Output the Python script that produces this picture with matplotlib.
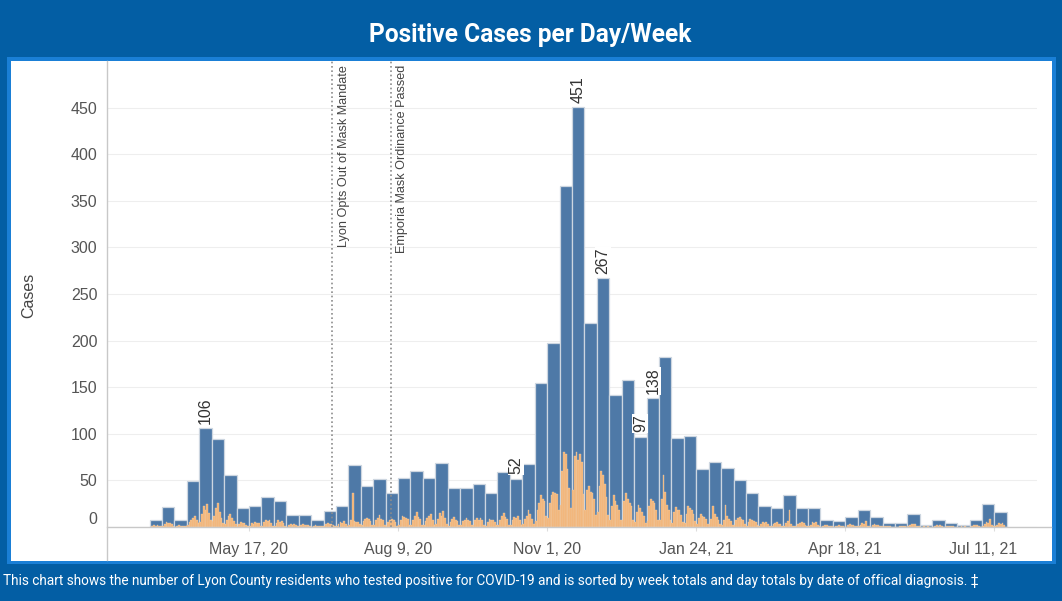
import numpy as np
import pandas as pd
import matplotlib
matplotlib.use('Agg')
import matplotlib.pyplot as plt
import matplotlib.transforms as mtransforms
from matplotlib.patches import Rectangle
from matplotlib.lines import Line2D
from matplotlib import font_manager as fm

# weekly totals, weeks starting Sunday 2020-03-22
first_week = '2020-03-22'
weekly = [8, 21, 7, 49, 106, 94, 56, 20, 22, 32, 28, 13, 13, 7, 17, 23, 66, 44, 51, 36,
          53, 60, 53, 69, 42, 42, 46, 36, 59, 52, 68, 154, 197, 366, 451, 219, 267, 142,
          158, 97, 138, 182, 95, 98, 62, 70, 63, 50, 36, 22, 20, 34, 20, 20, 8, 6, 11, 18,
          11, 4, 4, 14, 2, 7, 4, 2, 8, 25, 16]

# daily totals, one row per week (Sun..Sat)
daily_rows = [
    [0, 1, 2, 1, 2, 1, 1], [1, 3, 5, 4, 4, 3, 1], [0, 1, 2, 1, 1, 1, 1], [2, 5, 8, 10, 12, 8, 4],
    [5, 14, 22, 18, 25, 15, 7], [6, 12, 20, 26, 16, 10, 4], [3, 8, 12, 14, 10, 6, 3],
    [1, 3, 5, 4, 4, 2, 1], [1, 4, 3, 5, 4, 4, 1], [1, 5, 8, 6, 7, 4, 1], [1, 4, 7, 5, 6, 4, 1],
    [0, 2, 3, 2, 3, 2, 1], [1, 2, 3, 2, 2, 2, 1], [0, 1, 2, 1, 1, 1, 1], [1, 3, 4, 3, 3, 2, 1],
    [1, 3, 5, 4, 6, 3, 1], [2, 8, 37, 6, 5, 5, 3], [2, 6, 9, 10, 9, 6, 2], [2, 7, 10, 13, 9, 8, 2],
    [1, 5, 8, 9, 7, 5, 1], [2, 7, 12, 11, 10, 9, 2], [2, 8, 12, 16, 11, 9, 2],
    [2, 6, 10, 12, 14, 7, 2], [3, 9, 15, 12, 17, 10, 3], [1, 5, 9, 11, 8, 6, 2],
    [2, 6, 8, 10, 8, 6, 2], [2, 7, 10, 8, 10, 7, 2], [1, 5, 9, 7, 7, 5, 2],
    [2, 8, 12, 15, 11, 9, 2], [2, 7, 11, 10, 12, 8, 2], [3, 9, 12, 18, 14, 9, 3],
    [6, 18, 26, 34, 30, 28, 12], [10, 26, 34, 38, 36, 35, 18], [24, 60, 80, 78, 62, 42, 20],
    [40, 76, 80, 72, 78, 70, 35], [18, 40, 44, 38, 36, 30, 13], [16, 44, 60, 56, 46, 32, 13],
    [8, 22, 34, 28, 24, 18, 8], [8, 28, 36, 30, 26, 22, 8], [5, 16, 24, 20, 16, 12, 4],
    [6, 22, 30, 28, 26, 18, 8], [8, 30, 56, 38, 24, 18, 8], [4, 16, 21, 18, 18, 13, 5],
    [4, 14, 22, 20, 18, 14, 6], [3, 10, 14, 12, 11, 9, 3], [3, 9, 22, 14, 11, 8, 3],
    [2, 8, 24, 12, 9, 6, 2], [2, 7, 10, 11, 9, 8, 3], [1, 5, 9, 8, 6, 5, 2],
    [1, 3, 5, 4, 5, 3, 1], [1, 3, 4, 5, 3, 3, 1], [1, 4, 6, 18, 3, 1, 1], [1, 3, 4, 5, 4, 2, 1],
    [1, 2, 5, 4, 5, 2, 1], [0, 1, 2, 2, 1, 1, 1], [0, 1, 1, 2, 1, 1, 0], [0, 2, 3, 2, 2, 1, 1],
    [1, 2, 4, 3, 6, 1, 1], [0, 2, 3, 2, 2, 1, 1], [0, 1, 1, 1, 1, 0, 0], [0, 0, 1, 1, 1, 1, 0],
    [1, 2, 3, 3, 3, 1, 1], [0, 0, 1, 0, 1, 0, 0], [0, 1, 2, 1, 2, 1, 0], [0, 1, 1, 1, 1, 0, 0],
    [0, 0, 1, 0, 1, 0, 0], [0, 1, 2, 2, 2, 1, 0], [1, 3, 5, 4, 9, 2, 1], [1, 2, 4, 3, 4, 2, 0],
]

labeled_weeks = [4, 29, 34, 36, 39, 40]

events = ['2020-07-03', '2020-08-05']
event_labels = ['Lyon Opts Out of Mask Mandate', 'Emporia Mask Ordinance Passed']

tick_dates = ['2020-05-17', '2020-08-09', '2020-11-01', '2021-01-24', '2021-04-18', '2021-07-11']
tick_labels = ['May 17, 20', 'Aug 9, 20', 'Nov 1, 20', 'Jan 24, 21', 'Apr 18, 21', 'Jul 11, 21']
y_ticks = [0, 50, 100, 150, 200, 250, 300, 350, 400, 450]

title = 'Positive Cases per Day/Week'
footer = ('This chart shows the number of Lyon County residents who tested positive for COVID-19 '
          'and is sorted by week totals and day totals by date of offical diagnosis. \u2021')

names = {f.name for f in fm.fontManager.ttflist}
base = 'Liberation Sans' if 'Liberation Sans' in names else 'DejaVu Sans'
narrow = 'Roboto' if 'Roboto' in names else base
plt.rcParams['font.family'] = [base, 'DejaVu Sans']

W, H = 1062, 601
def fx(px): return px / W
def fy(py): return 1 - py / H

fig = plt.figure(figsize=(10.62, 6.01), dpi=100, facecolor='#035ea4')
fig.add_artist(Rectangle((fx(7), fy(564)), fx(1056) - fx(7), fy(57) - fy(564),
                         transform=fig.transFigure, facecolor='#1a7fd6', edgecolor='none', zorder=0))
fig.add_artist(Rectangle((fx(11), fy(561)), fx(1052) - fx(11), fy(61) - fy(561),
                         transform=fig.transFigure, facecolor='white', edgecolor='none', zorder=0))

ax = fig.add_axes([fx(107), fy(527), fx(1037) - fx(107), fy(61) - fy(527)])
ax.patch.set_alpha(0)

weeks = pd.date_range(first_week, periods=len(weekly), freq='7D')
daily = [v for row in daily_rows for v in row]
days = pd.date_range(first_week, periods=len(daily), freq='D')

ax.bar(weeks, weekly, width=7, align='edge', color='#4e79a7', edgecolor='#cdd6e0',
       linewidth=0.9, zorder=2)
ax.bar(days, daily, width=1, align='edge', color='#f4b272', edgecolor='#ecd3b6',
       linewidth=0.25, zorder=3)

for i in labeled_weeks:
    ax.annotate(str(weekly[i]), xy=(weeks[i] + pd.Timedelta(days=3.5), weekly[i]),
                xytext=(0, 3), textcoords='offset points', rotation=90, ha='center', va='bottom',
                fontsize=11.5, color='#333333', zorder=5,
                bbox=dict(facecolor='white', edgecolor='none', pad=0.3))

for d, lab in zip(events, event_labels):
    ax.axvline(pd.Timestamp(d), color='#8c8c8c', linestyle=(0, (1, 1.6)), linewidth=1.2, zorder=4)
    ax.annotate(lab, xy=(pd.Timestamp(d), 1), xycoords=('data', 'axes fraction'),
                xytext=(8, -3), textcoords='offset points', rotation=90, ha='center', va='top',
                fontsize=9.1, color='#444444')

ax.set_xlim(pd.Timestamp('2020-02-27'), pd.Timestamp('2021-08-04'))
ax.set_ylim(0, 500)
ax.set_xticks(pd.to_datetime(tick_dates))
ax.set_xticklabels(tick_labels)
ax.set_yticks(y_ticks)
ax.set_yticklabels([str(v) for v in y_ticks])
ax.tick_params(axis='y', length=0, pad=7, labelsize=11.5, labelcolor='#555555')
ax.tick_params(axis='x', length=3, color='#dddddd', pad=8, labelsize=11.5, labelcolor='#555555')
ax.yaxis.get_ticklabels()[0].set_va('bottom')
last = ax.xaxis.get_ticklabels()[-1]
last.set_transform(last.get_transform() + mtransforms.ScaledTranslation(-0.11, 0, fig.dpi_scale_trans))
ax.yaxis.grid(True, color='#eeeeee', linewidth=0.8)
ax.set_axisbelow(True)
for s in ax.spines.values():
    s.set_visible(False)

fig.add_artist(Line2D([fx(107), fx(107)], [fy(61), fy(560)], color='#c8c8c8', linewidth=1))
fig.add_artist(Line2D([fx(107), fx(1051)], [fy(527), fy(527)], color='#c8c8c8', linewidth=1))

fig.text(fx(29), fy(295), 'Cases', rotation=90, ha='center', va='center', fontsize=11.5, color='#444444')

t1 = fig.text(fx(530), fy(35), title, ha='center', va='center', color='white', fontsize=17,
              fontweight='bold', family=[narrow, 'DejaVu Sans'])
t2 = fig.text(fx(3), fy(581), footer, ha='left', va='center', color='white', fontsize=10.5,
              family=[narrow, 'DejaVu Sans'])
fig.canvas.draw()
r = fig.canvas.get_renderer()
t1.set_fontsize(17 * 323 / t1.get_window_extent(r).width)
t2.set_fontsize(10.5 * 980 / t2.get_window_extent(r).width)

fig.savefig('out.png', dpi=100, facecolor=fig.get_facecolor())
